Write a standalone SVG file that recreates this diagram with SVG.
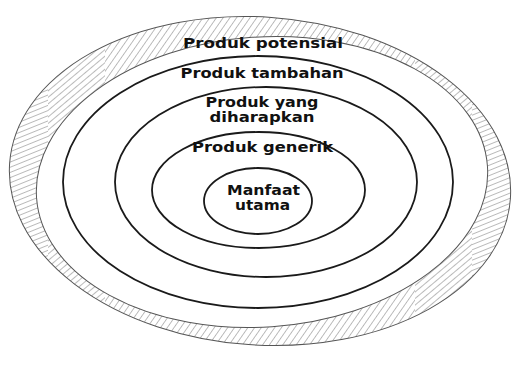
<svg xmlns="http://www.w3.org/2000/svg" width="512" height="365" viewBox="0 0 512 365">
  <style>
    .ring { fill: none; stroke: #1a1a1a; stroke-width: 1.8; }
    .edge { fill: none; stroke: #555; stroke-width: 1; }
    .hl { stroke: #666; stroke-width: 0.9; }
    .lbl { font-family: "DejaVu Sans", "Liberation Sans", sans-serif; font-weight: bold; font-size: 13.5px; fill: #111; text-anchor: middle; }
  </style>
  <defs>
    <pattern id="hatchTop" patternUnits="userSpaceOnUse" width="5.5" height="10" patternTransform="rotate(35)">
      <line class="hl" x1="0" y1="-1" x2="0" y2="11"/>
    </pattern>
    <pattern id="hatchMid" patternUnits="userSpaceOnUse" width="5" height="10" patternTransform="rotate(50)">
      <line class="hl" x1="0" y1="-1" x2="0" y2="11"/>
    </pattern>
    <pattern id="hatchSide" patternUnits="userSpaceOnUse" width="4.8" height="10" patternTransform="rotate(68)">
      <line class="hl" x1="0" y1="-1" x2="0" y2="11"/>
    </pattern>
    <mask id="ringMask">
      <rect width="512" height="365" fill="#000"/>
      <ellipse cx="260" cy="181" rx="251" ry="164" transform="rotate(4 260 181)" fill="#fff"/>
      <ellipse cx="262" cy="182" rx="226" ry="145" transform="rotate(-4 262 182)" fill="#000"/>
    </mask>
    <clipPath id="zoneTop"><rect x="105" y="0" width="310" height="365"/></clipPath>
    <clipPath id="zoneMid"><rect x="48" y="0" width="57" height="365"/><rect x="415" y="0" width="57" height="365"/></clipPath>
    <clipPath id="zoneSide"><rect x="0" y="0" width="48" height="365"/><rect x="472" y="0" width="40" height="365"/></clipPath>
  </defs>
  <rect width="512" height="365" fill="#ffffff"/>

  <g id="potensial">
    <g mask="url(#ringMask)">
      <rect width="512" height="365" fill="url(#hatchTop)" clip-path="url(#zoneTop)"/>
      <rect width="512" height="365" fill="url(#hatchMid)" clip-path="url(#zoneMid)"/>
      <rect width="512" height="365" fill="url(#hatchSide)" clip-path="url(#zoneSide)"/>
    </g>
    <ellipse class="edge" cx="260" cy="181" rx="251" ry="164" transform="rotate(4 260 181)"/>
    <ellipse class="edge" cx="262" cy="182" rx="226" ry="145" transform="rotate(-4 262 182)"/>
    <text class="lbl" x="263" y="48" textLength="160" lengthAdjust="spacingAndGlyphs">Produk potensial</text>
  </g>

  <g id="tambahan">
    <ellipse class="ring" cx="258" cy="182" rx="195" ry="126"/>
    <text class="lbl" x="262" y="78" textLength="163" lengthAdjust="spacingAndGlyphs">Produk tambahan</text>
  </g>

  <g id="diharapkan">
    <ellipse class="ring" cx="266" cy="182" rx="151" ry="95"/>
    <text class="lbl" x="262" y="107" textLength="113" lengthAdjust="spacingAndGlyphs">Produk yang</text>
    <text class="lbl" x="262" y="122" textLength="105" lengthAdjust="spacingAndGlyphs">diharapkan</text>
  </g>

  <g id="generik">
    <ellipse class="ring" cx="258.5" cy="190" rx="106.5" ry="58"/>
    <text class="lbl" x="262.5" y="152" textLength="141" lengthAdjust="spacingAndGlyphs">Produk generik</text>
  </g>

  <g id="manfaat">
    <ellipse class="ring" cx="258" cy="201" rx="54" ry="33"/>
    <text class="lbl" x="263.5" y="195" textLength="73" lengthAdjust="spacingAndGlyphs">Manfaat</text>
    <text class="lbl" x="262.5" y="210" textLength="55" lengthAdjust="spacingAndGlyphs">utama</text>
  </g>

  <g id="connectors"/>
</svg>
